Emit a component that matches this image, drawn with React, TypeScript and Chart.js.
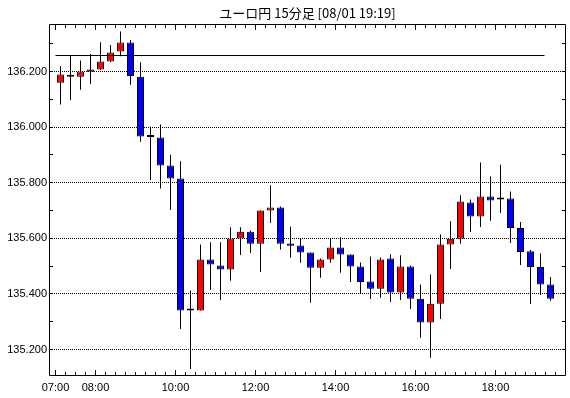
import React, { useEffect, useRef } from 'react';
import { Chart, registerables } from 'chart.js';

Chart.register(...registerables);

const TITLE = 'ユーロ円 15分足 [08/01 19:19]';

const times = [
  '07:00', '07:15', '07:30', '07:45', '08:00', '08:15', '08:30', '08:45',
  '09:00', '09:15', '09:30', '09:45', '10:00', '10:15', '10:30', '10:45',
  '11:00', '11:15', '11:30', '11:45', '12:00', '12:15', '12:30', '12:45',
  '13:00', '13:15', '13:30', '13:45', '14:00', '14:15', '14:30', '14:45',
  '15:00', '15:15', '15:30', '15:45', '16:00', '16:15', '16:30', '16:45',
  '17:00', '17:15', '17:30', '17:45', '18:00', '18:15', '18:30', '18:45',
  '19:00', '19:15',
];

const opens = [
  136.160, 136.188, 136.181, 136.199, 136.207, 136.236, 136.272, 136.304,
  136.181, 135.965, 135.963, 135.862, 135.815, 135.340, 135.340, 135.524,
  135.502, 135.488, 135.599, 135.624, 135.580, 135.700, 135.711, 135.581,
  135.574, 135.549, 135.494, 135.524, 135.567, 135.542, 135.499, 135.445,
  135.419, 135.527, 135.405, 135.499, 135.383, 135.297, 135.365, 135.578,
  135.598, 135.729, 135.678, 135.750, 135.741, 135.743, 135.637, 135.553,
  135.497, 135.434,
];
const highs = [
  136.219, 136.256, 136.240, 136.263, 136.305, 136.295, 136.344, 136.313,
  136.233, 136.002, 136.009, 135.901, 135.877, 135.412, 135.578, 135.586,
  135.586, 135.640, 135.640, 135.628, 135.700, 135.791, 135.714, 135.642,
  135.599, 135.549, 135.527, 135.599, 135.604, 135.542, 135.513, 135.535,
  135.531, 135.543, 135.539, 135.502, 135.434, 135.470, 135.614, 135.661,
  135.755, 135.740, 135.873, 135.823, 135.865, 135.768, 135.659, 135.558,
  135.545, 135.461,
];
const lows = [
  136.081, 136.097, 136.134, 136.155, 136.205, 136.234, 136.255, 136.152,
  135.947, 135.810, 135.779, 135.702, 135.274, 135.130, 135.340, 135.414,
  135.378, 135.447, 135.540, 135.547, 135.479, 135.655, 135.560, 135.530,
  135.512, 135.368, 135.458, 135.512, 135.476, 135.443, 135.401, 135.382,
  135.386, 135.371, 135.378, 135.346, 135.242, 135.170, 135.310, 135.490,
  135.580, 135.623, 135.641, 135.663, 135.691, 135.583, 135.504, 135.364,
  135.396, 135.375,
];
const closes = [
  136.189, 136.181, 136.200, 136.207, 136.236, 136.268, 136.304, 136.184,
  135.966, 135.964, 135.862, 135.815, 135.340, 135.340, 135.524, 135.506,
  135.488, 135.599, 135.624, 135.580, 135.700, 135.711, 135.580, 135.573,
  135.549, 135.494, 135.524, 135.567, 135.542, 135.499, 135.443, 135.419,
  135.524, 135.405, 135.499, 135.383, 135.297, 135.365, 135.578, 135.598,
  135.732, 135.678, 135.750, 135.736, 135.740, 135.637, 135.551, 135.497,
  135.434, 135.383,
];

// horizontal reference line
const refLineValue = 136.2575;
const refLineX = [-0.5, 48.4];

// axes
const xLabels = ['07:00', '08:00', '10:00', '12:00', '14:00', '16:00', '18:00'];
const yLabelValues = [135.2, 135.4, 135.6, 135.8, 136.0, 136.2];
const yMinorValues = [135.2, 135.3, 135.4, 135.5, 135.6, 135.7, 135.8, 135.9, 136.0, 136.1, 136.2, 136.3];
const Y_MIN = 135.1083;
const Y_MAX = 136.3673;
const X_MIN = -1.05;
const X_MAX = 50.45;

const UP_COLOR = '#ff0000';
const DOWN_COLOR = '#0000ff';
const FONT_FAMILY = '"Liberation Sans", Arial, sans-serif';

const framePlugin = {
  id: 'frame',
  afterDraw(chart: any) {
    const { ctx, chartArea: a, scales } = chart;
    const xs = scales.x;
    const ys = scales.y;
    const majorPos = xLabels.map((t) => times.indexOf(t) - 0.5);
    ctx.save();
    ctx.strokeStyle = '#000';
    ctx.lineWidth = 1;
    const L = a.left - 0.5;
    const R = a.right + 0.5;
    const T = a.top - 0.5;
    const B = a.bottom + 0.5;
    ctx.beginPath();
    ctx.moveTo(L, T);
    ctx.lineTo(R, T);
    ctx.lineTo(R, B);
    ctx.lineTo(L, B);
    ctx.closePath();
    for (let k = 0; k <= times.length; k++) {
      const v = k - 0.5;
      const px = Math.round(xs.getPixelForValue(v) - 0.5) + 0.5;
      if (px <= L || px >= R) continue;
      const len = majorPos.includes(v) ? 5 : 3;
      ctx.moveTo(px, B);
      ctx.lineTo(px, B - len - 0.5);
      ctx.moveTo(px, T);
      ctx.lineTo(px, T + len + 0.5);
    }
    for (const v of yMinorValues) {
      const py = Math.round(ys.getPixelForValue(v) - 0.5) + 0.5;
      ctx.moveTo(L, py);
      ctx.lineTo(L + 3.5, py);
      ctx.moveTo(R, py);
      ctx.lineTo(R - 3.5, py);
    }
    ctx.stroke();

    ctx.fillStyle = '#000';
    ctx.font = '13px "Noto Sans CJK JP", sans-serif';
    ctx.textAlign = 'center';
    ctx.textBaseline = 'middle';
    ctx.fillText(TITLE, (a.left + a.right) / 2, 13.5);
    ctx.restore();
  },
};

export default function App() {
  const ref = useRef<HTMLCanvasElement>(null);

  useEffect(() => {
    if (!ref.current) return;
    const idx = times.map((_, i) => i);
    const bodies = idx.map((i) => ({ x: i, y: [opens[i], closes[i]] }));
    const wicks = idx.map((i) => ({ x: i, y: [lows[i], highs[i]] }));
    const colors = idx.map((i) => (closes[i] >= opens[i] ? UP_COLOR : DOWN_COLOR));
    const xTickPos = xLabels.map((t) => times.indexOf(t) - 0.5);

    const chart = new Chart(ref.current, {
      type: 'bar',
      data: {
        datasets: [
          {
            type: 'bar',
            data: bodies as any,
            backgroundColor: colors,
            borderColor: '#000',
            borderWidth: 1,
            borderSkipped: false,
            barThickness: 7,
            minBarLength: 2,
            grouped: false,
            inflateAmount: 0,
            order: 1,
          } as any,
          {
            type: 'bar',
            data: wicks as any,
            backgroundColor: '#000',
            borderWidth: 0,
            barThickness: 1,
            grouped: false,
            inflateAmount: 0,
            order: 2,
          } as any,
          {
            type: 'line',
            data: refLineX.map((x) => ({ x, y: refLineValue })),
            borderColor: '#000',
            borderWidth: 1,
            pointRadius: 0,
            order: 0,
          } as any,
        ],
      },
      options: {
        animation: false,
        responsive: false,
        events: [],
        layout: { padding: { top: 25, right: 5, left: 0, bottom: 0 } },
        plugins: {
          legend: { display: false },
          title: { display: false },
          tooltip: { enabled: false },
        },
        scales: {
          x: {
            type: 'linear',
            min: X_MIN,
            max: X_MAX,
            offset: false,
            grid: { display: false, drawTicks: false },
            border: { display: false },
            afterBuildTicks: (s: any) => {
              s.ticks = xTickPos.map((v) => ({ value: v }));
            },
            afterFit: (s: any) => {
              s.height = 23;
            },
            ticks: {
              autoSkip: false,
              maxRotation: 0,
              minRotation: 0,
              padding: 6,
              color: '#000',
              font: { family: FONT_FAMILY, size: 11 },
              callback: (_v: any, i: number) => xLabels[i] ?? '',
            },
          },
          y: {
            type: 'linear',
            min: Y_MIN,
            max: Y_MAX,
            grid: { color: '#000', lineWidth: 1, drawTicks: false },
            border: { display: false, dash: [1, 1] },
            afterBuildTicks: (s: any) => {
              s.ticks = yLabelValues.map((v) => ({ value: v }));
            },
            afterFit: (s: any) => {
              s.width = 50;
            },
            ticks: {
              padding: 3,
              color: '#000',
              font: { family: FONT_FAMILY, size: 11 },
              callback: (v: any) => Number(v).toFixed(3),
            },
          },
        },
      } as any,
      plugins: [framePlugin],
    });
    return () => chart.destroy();
  }, []);

  return (
    <div style={{ position: 'fixed', left: 0, top: 0, width: 570, height: 398, background: '#fff' }}>
      <canvas ref={ref} width={570} height={398} style={{ display: 'block' }} />
    </div>
  );
}
